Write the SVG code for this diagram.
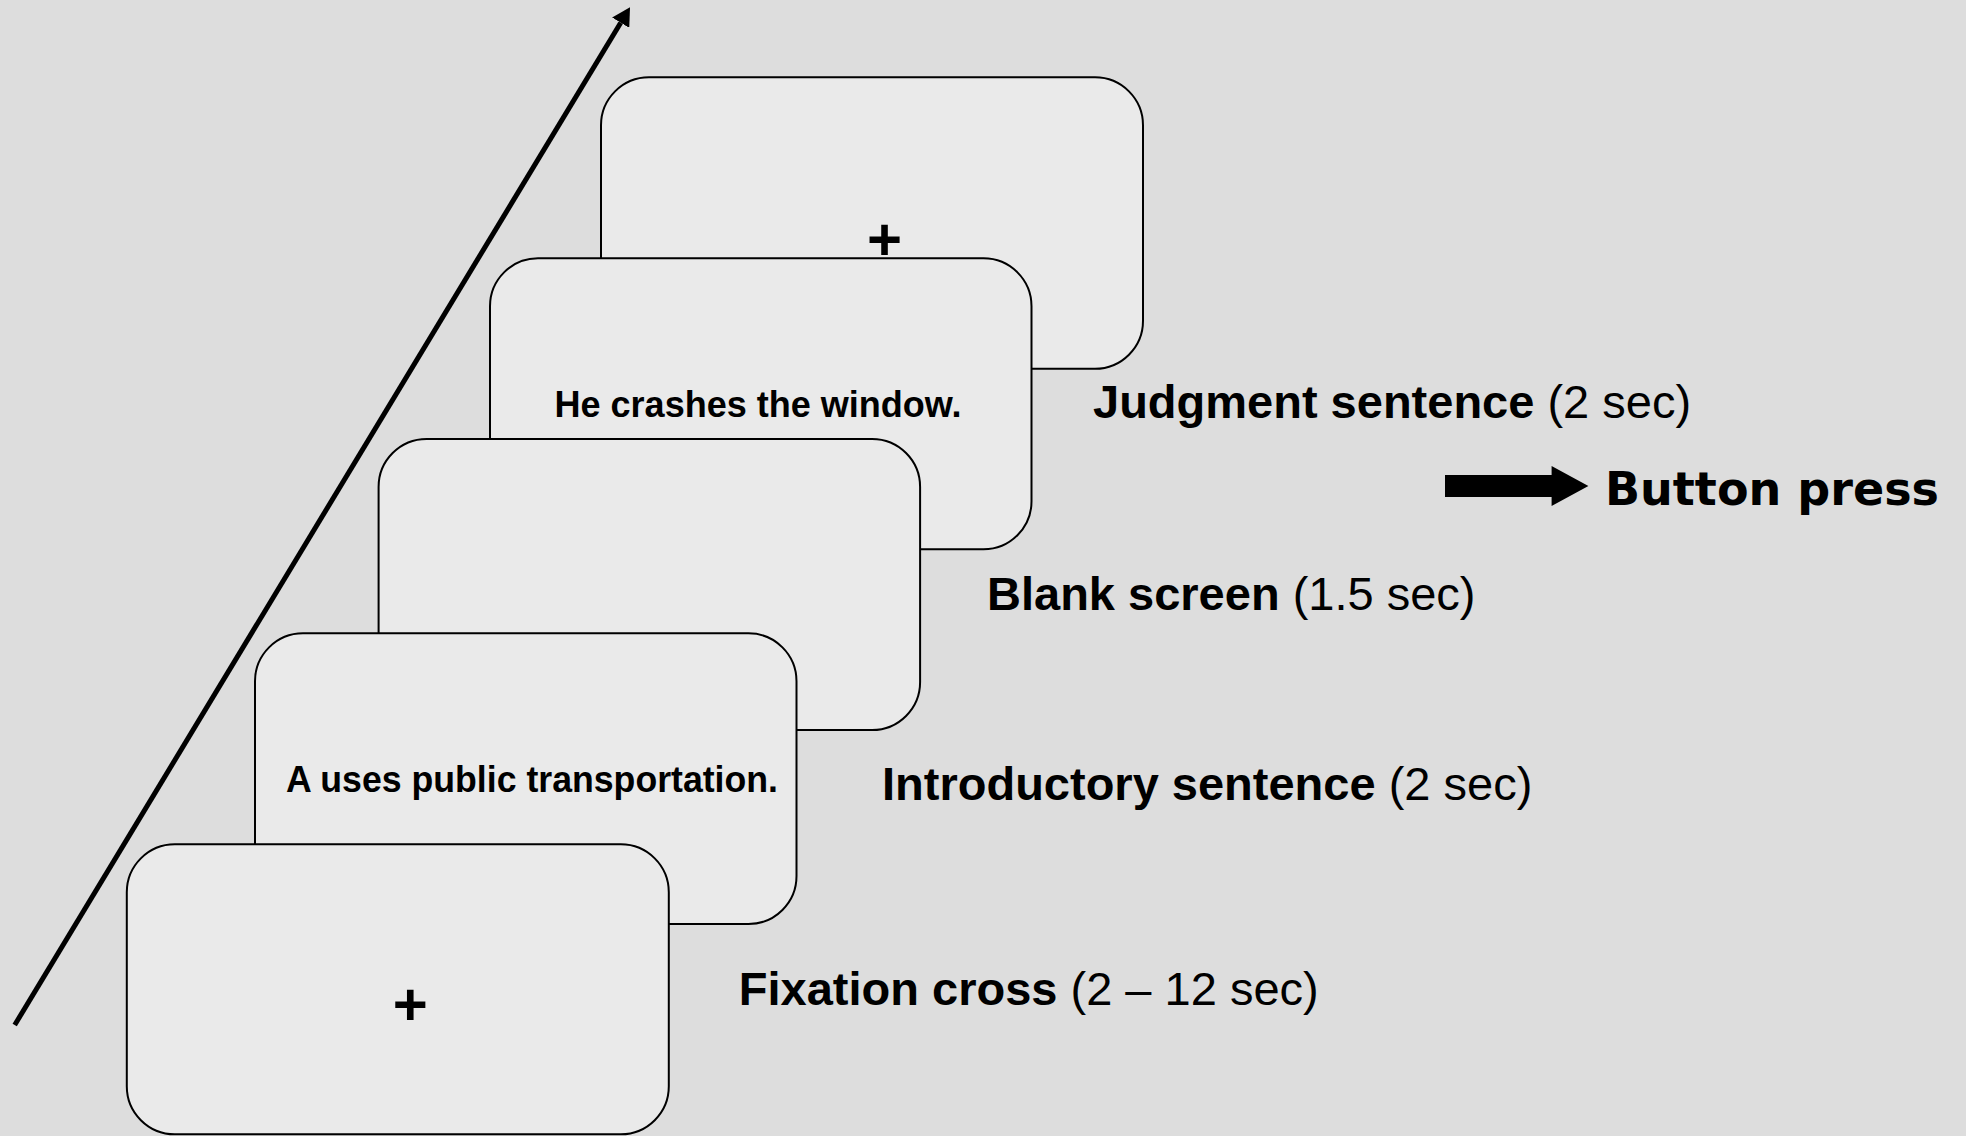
<svg xmlns="http://www.w3.org/2000/svg" width="1966" height="1136" viewBox="0 0 1966 1136">
  <style>
    .card { fill: #EAEAEA; stroke: #000; stroke-width: 2; }
    .cardtxt { font-family: "Liberation Sans", Arial, sans-serif; font-weight: bold; font-size: 36px; fill: #000; }
    .plus { font-family: "Liberation Sans", Arial, sans-serif; font-weight: bold; font-size: 60px; fill: #000; text-anchor: middle; }
    .lbl { font-family: "Liberation Sans", Arial, sans-serif; font-size: 47px; fill: #000; }
    .b { font-weight: bold; }
    .btn { font-family: "DejaVu Sans", Verdana, sans-serif; font-weight: bold; font-size: 46px; fill: #000; }
  </style>
  <defs>
    <marker id="head" markerUnits="userSpaceOnUse" viewBox="0 0 18 20" markerWidth="18" markerHeight="20" refX="0" refY="10" orient="auto">
      <path d="M0,0 L18,10 L0,20 Z" fill="#000"/>
    </marker>
  </defs>
  <rect width="1966" height="1136" fill="#DDDDDD"/>

  <g id="connectors">
    <line x1="14.7" y1="1025" x2="620.7" y2="22.7" stroke="#000" stroke-width="5" marker-end="url(#head)"/>
    <polygon points="1445,475 1551.6,475 1551.6,466 1588.4,486 1551.6,506 1551.6,497 1445,497" fill="#000"/>
  </g>

  <g id="card-judgment-fixation">
    <rect class="card" x="601" y="77.3" width="542" height="291.5" rx="48" ry="48"/>
    <text class="plus" x="884.5" y="259.5">+</text>
  </g>
  <g id="card-judgment-sentence">
    <rect class="card" x="490" y="258.3" width="541.5" height="291" rx="48" ry="48"/>
    <text class="cardtxt" x="554.5" y="416.7" textLength="407" lengthAdjust="spacingAndGlyphs">He crashes the window.</text>
  </g>
  <g id="card-blank">
    <rect class="card" x="378.6" y="439" width="541.5" height="291" rx="48" ry="48"/>
  </g>
  <g id="card-introductory">
    <rect class="card" x="255" y="633.3" width="541.5" height="290.7" rx="48" ry="48"/>
    <text class="cardtxt" x="286" y="791.7" textLength="492" lengthAdjust="spacingAndGlyphs">A uses public transportation.</text>
  </g>
  <g id="card-fixation">
    <rect class="card" x="126.8" y="844.3" width="542" height="290" rx="48" ry="48"/>
    <text class="plus" x="410.2" y="1025">+</text>
  </g>

  <g id="label-judgment">
    <text class="lbl" x="1093" y="417.5"><tspan class="b">Judgment sentence</tspan> (2 sec)</text>
  </g>
  <g id="label-button">
    <text class="btn" x="1605" y="505" textLength="334" lengthAdjust="spacingAndGlyphs">Button press</text>
  </g>
  <g id="label-blank">
    <text class="lbl" x="987" y="610"><tspan class="b">Blank screen</tspan> (1.5 sec)</text>
  </g>
  <g id="label-introductory">
    <text class="lbl" x="882" y="799.5"><tspan class="b">Introductory sentence</tspan> (2 sec)</text>
  </g>
  <g id="label-fixation">
    <text class="lbl" x="738.8" y="1004.5"><tspan class="b">Fixation cross</tspan> (2 – 12 sec)</text>
  </g>
</svg>
